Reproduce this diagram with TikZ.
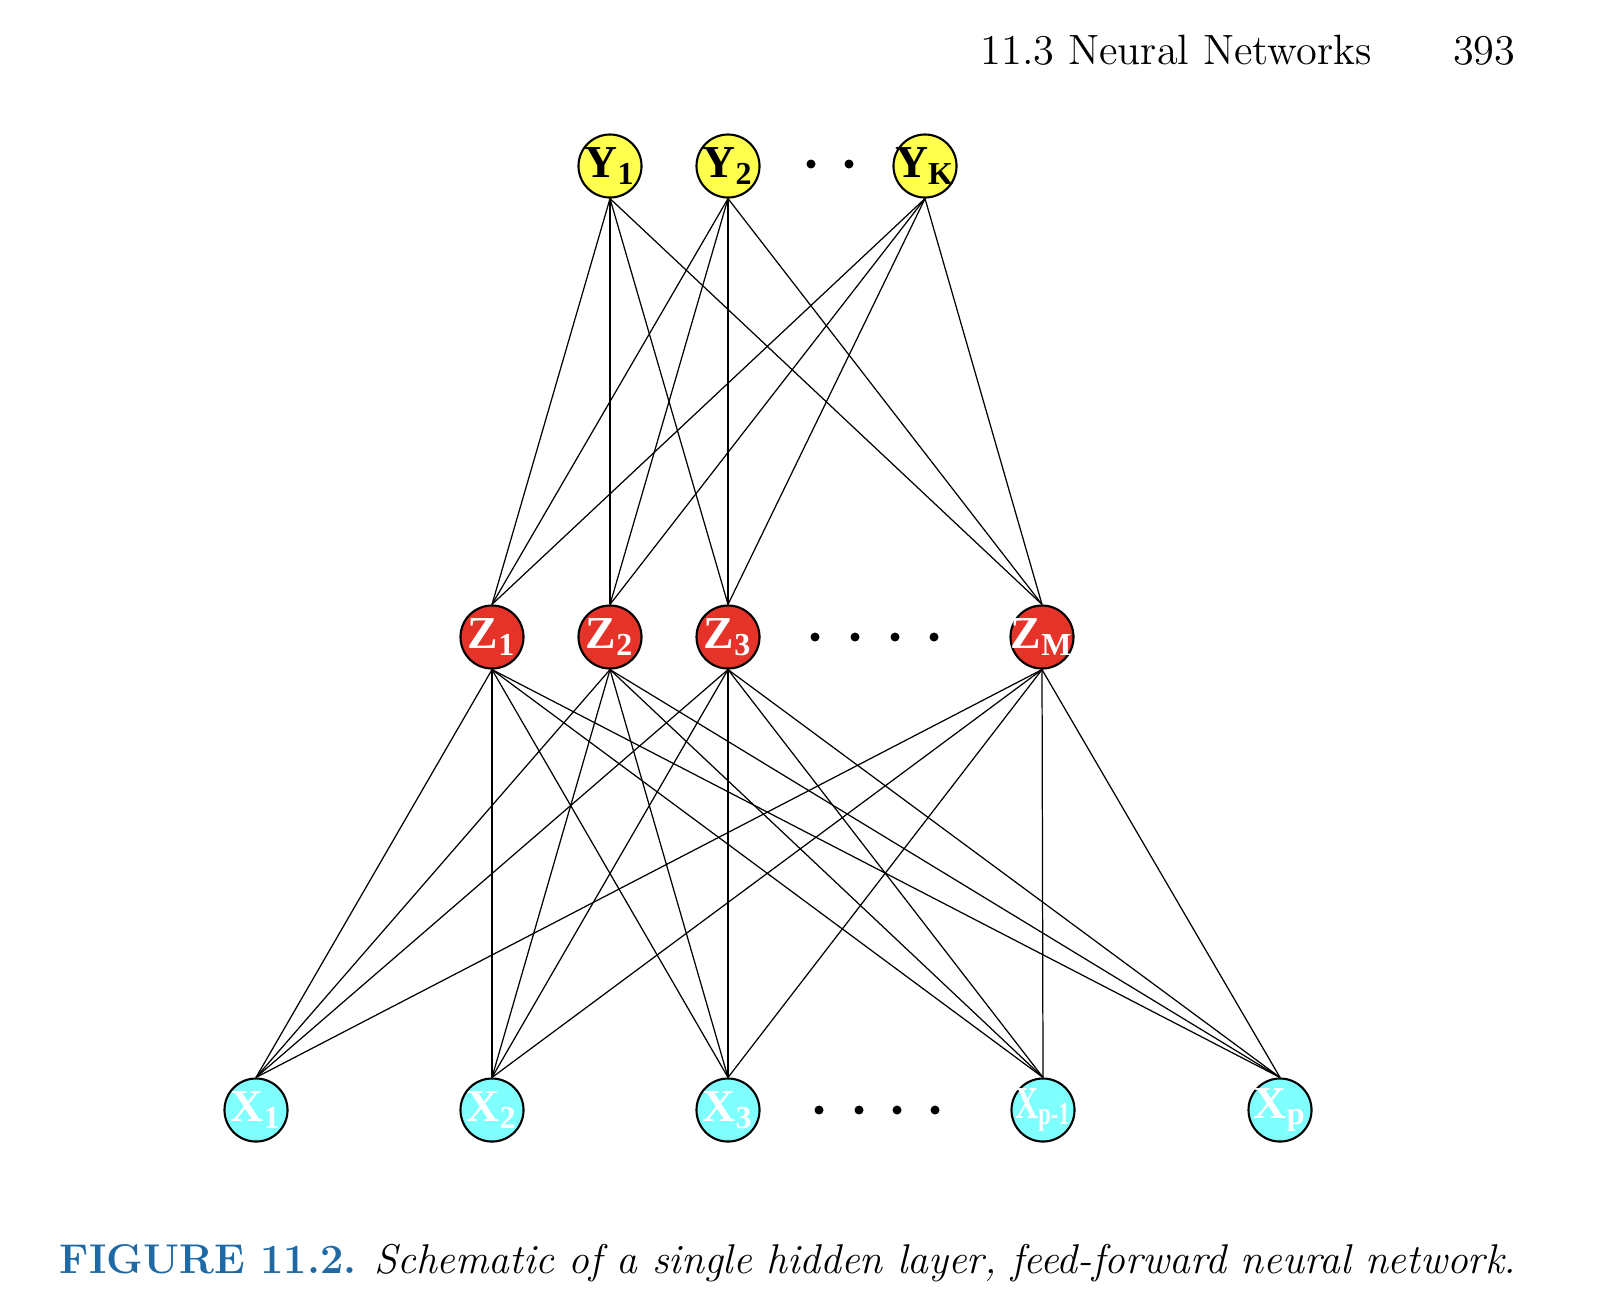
\documentclass[tikz,border=0pt]{standalone}
\usepackage{fontspec}
\usepackage{xcolor}
\usepackage{graphicx}
\newfontfamily\unitfont{Liberation Serif}
\definecolor{unitYellow}{HTML}{FFFF4D}
\definecolor{unitRed}{HTML}{E5332A}
\definecolor{unitCyan}{HTML}{80FFFF}
\definecolor{capBlue}{HTML}{1F6AA5}
\begin{document}
\begin{tikzpicture}[x=0.01cm,y=-0.01cm,
  unit/.style={circle,draw,line width=0.6pt,minimum size=0.63cm,inner sep=-4pt,
    font=\unitfont\bfseries\fontsize{13}{13}\selectfont},
  outunit/.style={unit,fill=unitYellow,text=black},
  hidunit/.style={unit,fill=unitRed,text=white},
  inunit/.style={unit,fill=unitCyan,text=white},
  link/.style={line width=0.35pt},
  dot/.style={fill,circle,inner sep=0pt,minimum size=0.09cm},
  plain/.style={inner sep=0pt,anchor=base west}]
\useasboundingbox (0,0) rectangle (1604,1314);
% output layer
\node[outunit] (y1) at (610,166) {Y\textsubscript{1}};
\node[outunit] (y2) at (728,166) {Y\textsubscript{2}};
\node[outunit] (yK) at (925,166) {Y\textsubscript{K}};
\foreach \x in {811,849} \node[dot] at (\x,164) {};
% hidden layer
\node[hidunit] (z1) at (492,637) {Z\textsubscript{1}};
\node[hidunit] (z2) at (610,637) {Z\textsubscript{2}};
\node[hidunit] (z3) at (728,637) {Z\textsubscript{3}};
\node[hidunit] (zM) at (1042,637) {Z\textsubscript{M}};
\foreach \x in {815,855,895,934} \node[dot] at (\x,637) {};
% input layer
\node[inunit] (x1) at (256,1110) {X\textsubscript{1}};
\node[inunit] (x2) at (492,1110) {X\textsubscript{2}};
\node[inunit] (x3) at (728,1110) {X\textsubscript{3}};
\node[inunit] (xq) at (1043,1110) {\scalebox{0.7}[1]{X\textsubscript{p-1}}};
\node[inunit] (xp) at (1280,1110) {X\textsubscript{p}};
\foreach \x in {819,859,897,935} \node[dot] at (\x,1110) {};
% connections
\foreach \h in {z1,z2,z3,zM}
  \foreach \o in {y1,y2,yK}
    \draw[link] (\h.north) -- (\o.south);
\foreach \i in {x1,x2,x3,xq,xp}
  \foreach \h in {z1,z2,z3,zM}
    \draw[link] (\i.north) -- (\h.south);
% page text
\node[plain,font=\fontsize{12.05}{14}\selectfont] (runhead) at (980,64) {11.3 Neural Networks};
\node[plain,anchor=base east,font=\fontsize{12.05}{14}\selectfont] (pagenum) at (1516,64) {393};
\node[plain,font=\fontsize{11.82}{14}\selectfont] (caption) at (59,1273)
  {\textcolor{capBlue}{\bfseries FIGURE 11.2.} \textit{Schematic of a single hidden layer, feed-forward neural network.}};
\end{tikzpicture}
\end{document}
